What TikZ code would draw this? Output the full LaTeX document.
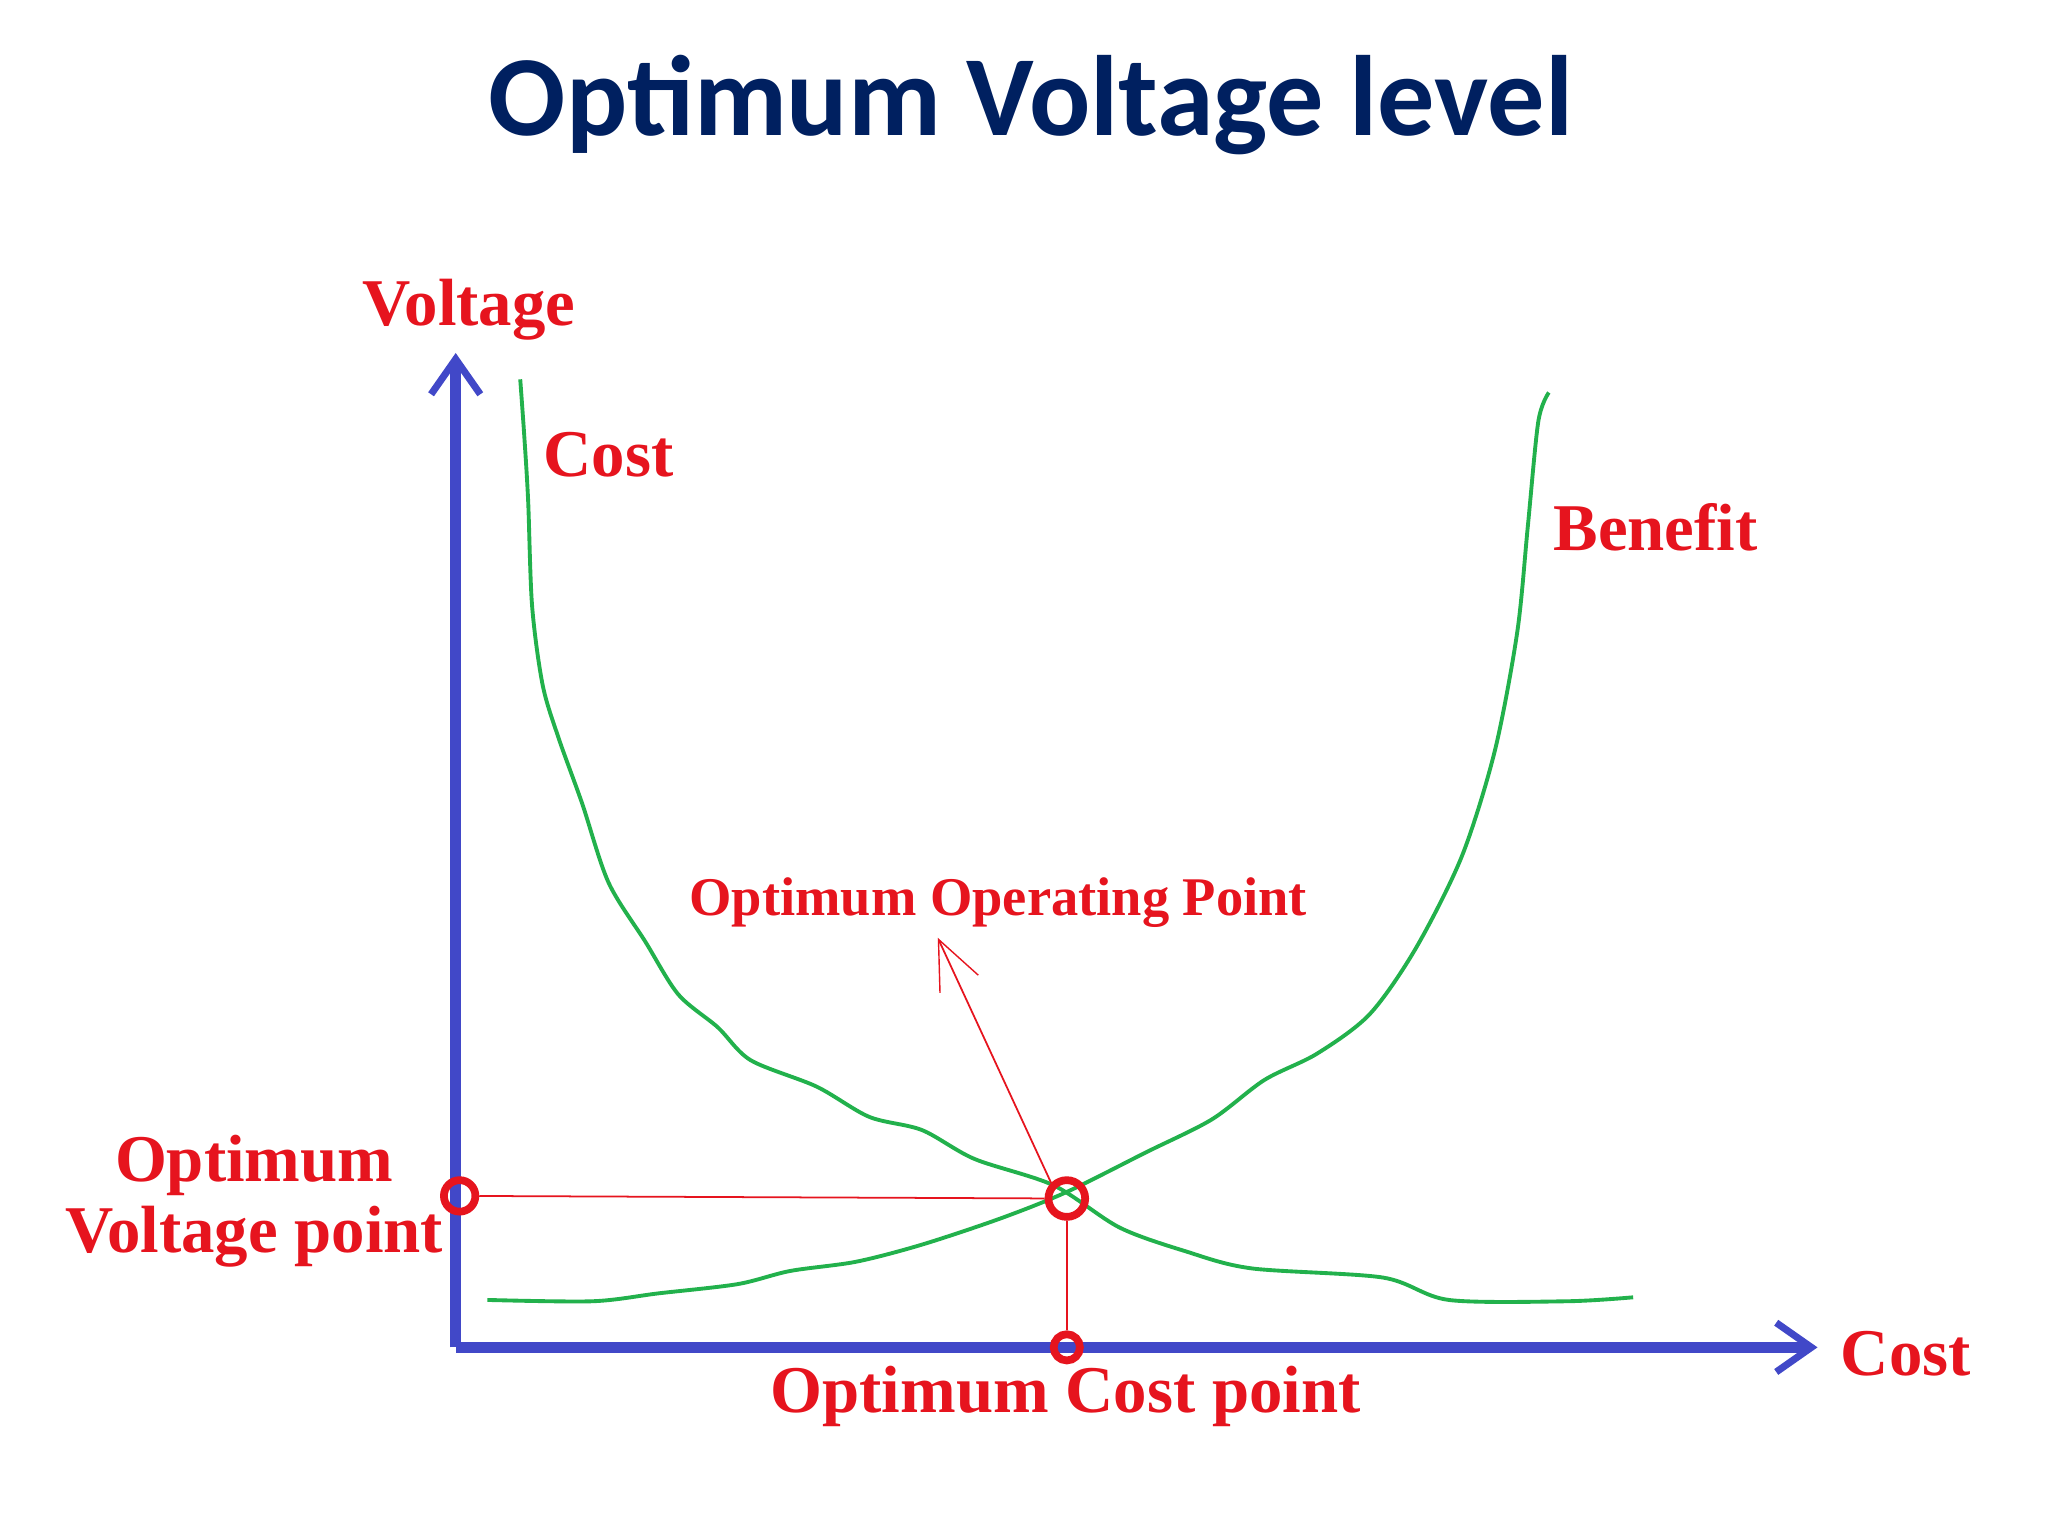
\documentclass[tikz,border=0pt]{standalone}
\usepackage{fontspec}
\setmainfont{Liberation Serif}
\newfontfamily\titlefont{Carlito}
\usetikzlibrary{arrows.meta}
\definecolor{navy}{RGB}{0,32,96}
\definecolor{axblue}{RGB}{65,72,200}
\definecolor{gcurve}{RGB}{34,177,76}
\definecolor{lred}{RGB}{230,20,30}
\begin{document}
\begin{tikzpicture}[x=0.01317cm,y=-0.01317cm,
  lab/.style={text=lred,font=\bfseries\fontsize{19}{22}\selectfont,inner sep=0pt},
  curve/.style={draw=gcurve,line width=1.1pt,line join=round},
  axis/.style={draw=axblue,line width=3pt},
  mark circ/.style={draw=lred,line width=2.2pt,circle,inner sep=0pt}]
\useasboundingbox (0,0) rectangle (1555,1166);
\fill[white] (0,0) rectangle (1555,1166);
\node[text=navy,font=\titlefont\bfseries\fontsize{32.5}{38}\selectfont] (title) at (783,80) {Optimum Voltage level};
% axes
\coordinate (O) at (346,1023);
\coordinate (ytop) at (346,268);
\coordinate (xend) at (1380,1023);
\draw[axis,-{Straight Barb[length=10pt,width=14pt,line width=2pt]}] (O) -- (ytop);
\draw[axis,-{Straight Barb[length=10pt,width=14pt,line width=2pt]}] (O) -- (xend);
% curves
\draw[curve] plot[smooth,tension=0.5] coordinates {(395,288) (398,330) (401,380) (404,460) (412,520) (424,560) (442,610) (462,670) (490,715) (515,755) (545,780) (570,805) (620,825) (660,848) (700,858) (740,880) (800,900) (850,932) (900,950) (950,963) (1050,970) (1100,987) (1190,988) (1240,985)};
\draw[curve] plot[smooth,tension=0.5] coordinates {(370,987) (450,988) (500,982) (560,975) (600,965) (650,958) (700,945) (760,925) (810,905) (870,875) (920,850) (960,820) (1000,800) (1040,770) (1075,720) (1110,650) (1135,570) (1152,480) (1160,400) (1168,320) (1176,298)};
% red marks
\node[mark circ,minimum size=24pt*0.373] (pv) at (349,908) {};
\node[mark circ,minimum size=28pt*0.373] (pop) at (810,910) {};
\node[mark circ,minimum size=20pt*0.373] (pc) at (810,1023) {};
\draw[lred,line width=0.5pt] (pv) -- (pop);
\draw[lred,line width=0.5pt] (pop) -- (pc);
\coordinate (arrtip) at (712,712);
\draw[lred,line width=0.5pt,-{Straight Barb[length=14pt,width=12pt,line width=0.4pt]}] (pop.north west) -- (arrtip);
% labels
\node[lab] (lvolt) at (356,235) {Voltage};
\node[lab] (lcost) at (462,345) {Cost};
\node[lab] (lben) at (1257,400) {Benefit};
\node[lab,font=\bfseries\fontsize{15.5}{19}\selectfont] (lop) at (758,685) {Optimum Operating Point};
\node[lab,align=center] (lov) at (193,912) {Optimum\\[-2pt]Voltage point};
\node[lab] (locp) at (809,1060) {Optimum Cost point};
\node[lab] (lxc) at (1447,1028) {Cost};
\end{tikzpicture}
\end{document}
